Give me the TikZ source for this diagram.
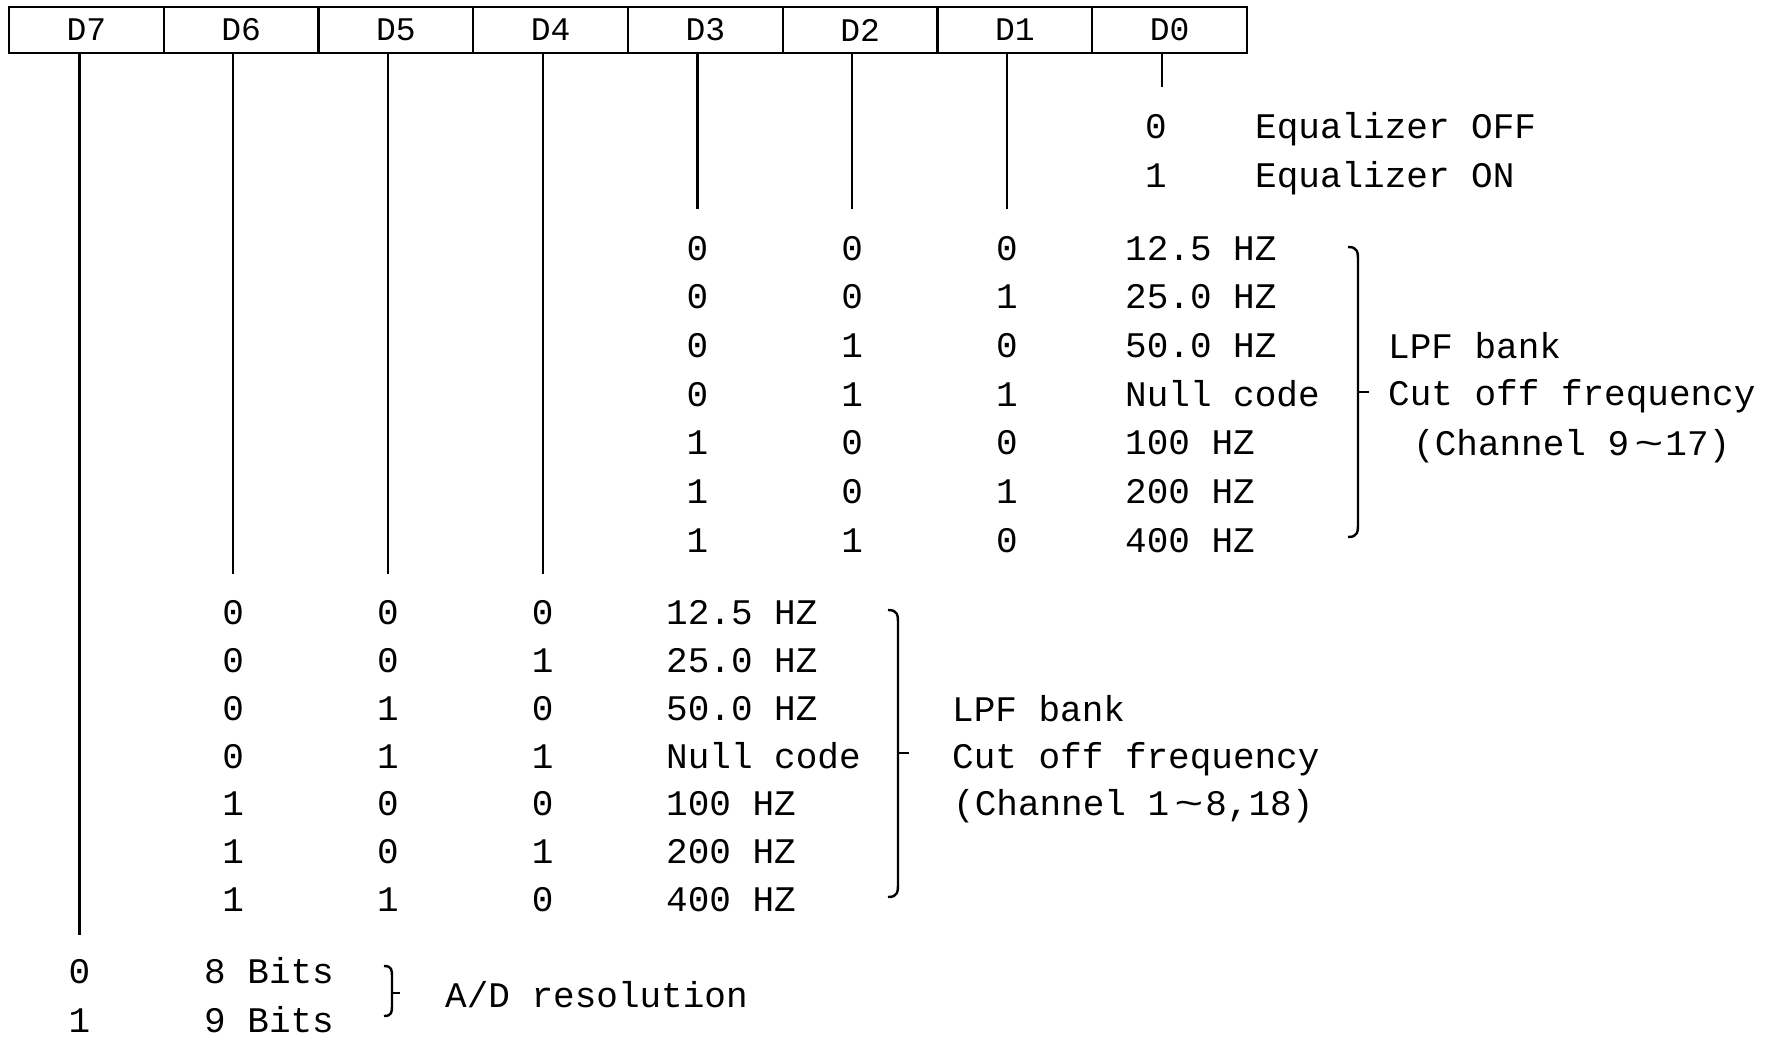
\documentclass[tikz,border=0pt]{standalone}
\usepackage{fontspec}
\newfontfamily\mono{Liberation Mono}
\newcommand{\mytilde}{\hspace{5pt}\scalebox{1.35}[1]{\textasciitilde}\hspace{2pt}}
\begin{document}
\begin{tikzpicture}[x=1pt,y=-1pt,
  lw/.style={line width=2.4pt},
  cell/.style={draw,line width=2.4pt,minimum width=154.75pt,minimum height=46pt,inner sep=0pt,font=\mono\fontsize{33}{36}\selectfont},
  txt/.style={inner sep=0pt,anchor=mid west,yshift=-11pt,font=\mono\fontsize{36}{40}\selectfont},
  dig/.style={inner sep=0pt,anchor=mid,yshift=-11pt,font=\mono\fontsize{36}{40}\selectfont}]
\useasboundingbox (0,0) rectangle (1776,1040);
% register box
\foreach \i [count=\k from 0] in {7,6,5,4,3,2,1,0}
  \node[cell] (c\i) at ({86.4+154.75*\k},30) {D\i};
% line end points
\coordinate (e7) at (79.4,934.5);
\coordinate (e6) at (233.2,574);
\coordinate (e5) at (388,574);
\coordinate (e4) at (542.7,574);
\coordinate (e3) at (697.4,209.5);
\coordinate (e2) at (852.2,209.5);
\coordinate (e1) at (1006.9,209.5);
\coordinate (e0) at (1161.7,87);
\foreach \i in {7,6,5,4,3,2,1,0}
  \draw[lw] (c\i.south -| e\i) -- (e\i);
% D0: equalizer
\node[dig] (q0) at (1156,125.7) {0};
\node[dig] (q1) at (1156,174.4) {1};
\node[txt] (qt0) at (1255,125.7) {Equalizer OFF};
\node[txt] (qt1) at (1255,174.4) {Equalizer ON};
% D3-D1 table
\foreach \a/\b/\c/\t [count=\r from 0] in {0/0/0/12.5 HZ,0/0/1/25.0 HZ,0/1/0/50.0 HZ,0/1/1/Null code,1/0/0/100 HZ,1/0/1/200 HZ,1/1/0/400 HZ}{
  \node[dig] (ua\r) at (697.4,{247+48.7*\r}) {\a};
  \node[dig] (ub\r) at (852.2,{247+48.7*\r}) {\b};
  \node[dig] (uc\r) at (1006.9,{247+48.7*\r}) {\c};
  \node[txt] (ut\r) at (1125,{247+48.7*\r}) {\t};
}
\draw[lw] (1348,247) .. controls (1358,247) and (1358,252) .. (1358,262) -- (1358,522) .. controls (1358,532) and (1358,537) .. (1348,537);
\draw[lw] (1358,392) -- (1369,392);
\node[txt] (ul1) at (1388,345) {LPF bank};
\node[txt] (ul2) at (1388,392) {Cut off frequency};
\node[txt] (ul3) at (1413,442) {(Channel 9\mytilde17)};
% D6-D4 table
\foreach \a/\b/\c/\t [count=\r from 0] in {0/0/0/12.5 HZ,0/0/1/25.0 HZ,0/1/0/50.0 HZ,0/1/1/Null code,1/0/0/100 HZ,1/0/1/200 HZ,1/1/0/400 HZ}{
  \node[dig] (la\r) at (233.2,{611.7+47.75*\r}) {\a};
  \node[dig] (lb\r) at (388,{611.7+47.75*\r}) {\b};
  \node[dig] (lc\r) at (542.7,{611.7+47.75*\r}) {\c};
  \node[txt] (lt\r) at (666,{611.7+47.75*\r}) {\t};
}
\draw[lw] (888,610) .. controls (898,610) and (898,615) .. (898,625) -- (898,882) .. controls (898,892) and (898,897) .. (888,897);
\draw[lw] (898,753) -- (909,753);
\node[txt] (ll1) at (952,708) {LPF bank};
\node[txt] (ll2) at (952,755) {Cut off frequency};
\node[txt] (ll3) at (953,802) {(Channel 1\mytilde8,18)};
% D7
\node[dig] (r0) at (79.4,970.7) {0};
\node[dig] (r1) at (79.4,1019.4) {1};
\node[txt] (rt0) at (204,970.7) {8 Bits};
\node[txt] (rt1) at (204,1019.4) {9 Bits};
\draw[lw] (384,966) .. controls (392,966) and (392,970) .. (392,977) -- (392,1005) .. controls (392,1012) and (392,1016) .. (384,1016);
\draw[lw] (392,993) -- (400,993);
\node[txt] (rl) at (445,994) {A/D resolution};
\end{tikzpicture}
\end{document}
